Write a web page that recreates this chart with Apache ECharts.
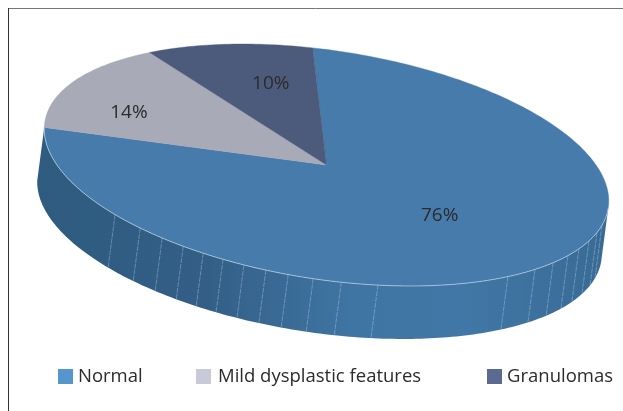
<!DOCTYPE html>
<html><head><meta charset="utf-8">
<style>html,body{margin:0;padding:0;background:#fff}#c{width:623px;height:411px}</style>
<script src="https://cdn.jsdelivr.net/npm/echarts@6/dist/echarts.min.js"></script>
</head><body><div id="c"></div>
<script>
const categories = ['Normal', 'Mild dysplastic features', 'Granulomas'];
const values = [76, 14, 10];
const sliceColors = ['#477bab', '#a9aab8', '#4c5a7c'];
const legendColors = ['#5596cf', '#c8cad9', '#5a6a90'];
const legendLeft = [58, 196, 487];
const legendTextPad = [0, 2, 0];
// Label anchors in the pie's own plane, as fractions of its two radii
const labelAnchor = [[0.419,0.284],[-0.713,-0.19],[-0.236,-0.626]];
// Facet seams on the pie's outer wall, degrees around the pie
const facetAngles = [135,127.8,122.1,117,112.4,108,103.5,98.9,94.3,89.2,83.5,76,46.5,38.9,33.1,27.7,23.1,18.1,13.1,9.1];

const geo = {cx:326.5, cy:165, a:285, b:114.4, rot:8.66*Math.PI/180, dx:-7, dy:53, start:-96.3};
const D = Math.PI/180;
const cr=Math.cos(geo.rot), sr=Math.sin(geo.rot);
function pt(u, off){
  const c=Math.cos(u*D)*geo.a, s=Math.sin(u*D)*geo.b;
  return [geo.cx + c*cr - s*sr + (off?geo.dx:0),
          geo.cy + c*sr + s*cr + (off?geo.dy:0)];
}
function arc(u0,u1,off){const p=[],n=Math.max(2,Math.ceil(Math.abs(u1-u0)));for(let i=0;i<=n;i++)p.push(pt(u0+(u1-u0)*i/n,off));return p;}
const total = values.reduce((a,b)=>a+b,0);
// Where the wall's right edge leaves the ellipse: tangent parallel to the extrusion
const silhouette = Math.atan(geo.b*(sr*geo.dy+cr*geo.dx)/(geo.a*(-cr*geo.dy+sr*geo.dx)))/D;
function sliceRange(i){
  let s=geo.start; for(let k=0;k<i;k++) s+=values[k]/total*360;
  return [s, s+values[i]/total*360];
}
function render(i){
  return function(params, api){
    const v=api.value(0), [u0,u1]=sliceRange(i), children=[];
    if(i===0){
      const a0=silhouette, a1=u1;
      children.push({type:'polygon',shape:{points:arc(a0,a1,false).concat(arc(a1,a0,true))},
        style:{fill:new echarts.graphic.LinearGradient(0,0,1,0,[
          {offset:0,color:'#2e5b7f'},{offset:.3,color:'#335f87'},{offset:.55,color:'#3f75a3'},
          {offset:.75,color:'#4177a6'},{offset:.9,color:'#3c6f9b'},{offset:1,color:'#386a95'}]),stroke:null}});
      facetAngles.forEach(a=>{const p=pt(a,false),q=pt(a,true);
        children.push({type:'line',shape:{x1:p[0],y1:p[1],x2:q[0],y2:q[1]},
          style:{stroke:'rgba(190,212,232,0.55)',lineWidth:0.7,lineDash:[5,1]}});});
    }
    children.push({type:'polygon',shape:{points:[[geo.cx,geo.cy]].concat(arc(u0,u1,false))},
      style:{fill:sliceColors[i],stroke:sliceColors[i],lineWidth:0.4}});
    if(i===0){
      children.push({type:'polyline',shape:{points:arc(0,u1,false)},
        style:{stroke:'rgba(205,222,238,0.8)',lineWidth:0.8,fill:null}});
    }
    const c=labelAnchor[i][0]*geo.a,s=labelAnchor[i][1]*geo.b;
    children.push({type:'text',style:{text:v+'%',
      x:geo.cx+c*cr-s*sr,y:geo.cy+c*sr+s*cr,
      fill:'#2b2b2b',font:'19px "Open Sans"',align:'center',verticalAlign:'middle'}});
    return {type:'group',children};
  };
}
const chart=echarts.init(document.getElementById('c'),null,{renderer:'canvas'});
chart.setOption({
  animation:false,
  legend:categories.map((n,i)=>({show:true,left:legendLeft[i],top:367,padding:0,itemWidth:15,itemHeight:15,selectedMode:false,
    textStyle:{fontFamily:'Open Sans',fontSize:18.5,color:'#2b2b2b',padding:[0,0,0,legendTextPad[i]]},
    data:[{name:n,icon:'rect',itemStyle:{color:legendColors[i]}}]})),
  series:categories.map((n,i)=>({type:'custom',name:n,coordinateSystem:'none',silent:true,
    data:[[values[i]]],renderItem:render(i),clip:false,itemStyle:{color:legendColors[i]}})),
  graphic:[
    {type:'line',shape:{x1:8,y1:8.5,x2:623,y2:8.5},style:{stroke:'#777',lineWidth:1}},
    {type:'line',shape:{x1:8.5,y1:8,x2:8.5,y2:411},style:{stroke:'#333',lineWidth:1}}
  ]
});
</script></body></html>
